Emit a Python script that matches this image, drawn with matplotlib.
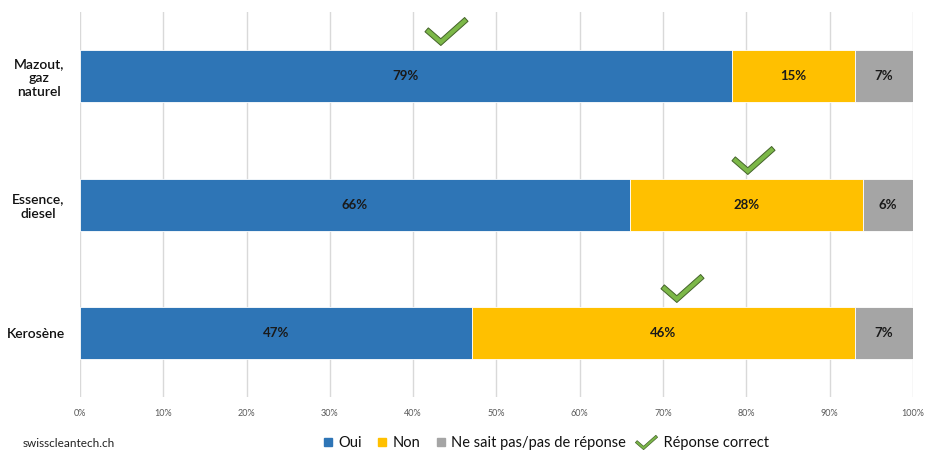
import numpy as np
import matplotlib
matplotlib.use("Agg")
import matplotlib.pyplot as plt
from matplotlib.path import Path
from matplotlib.lines import Line2D

plt.rcParams['font.family'] = ['Lato', 'DejaVu Sans']

# ---- data ----
categories = ["Mazout,\ngaz\nnaturel", "Essence,\ndiesel", "Kerosène"]
oui = [79, 66, 47]
non = [15, 28, 46]
nsp = [7, 6, 7]
series_names = ["Oui", "Non", "Ne sait pas/pas de réponse"]
correct_x = [43.9, 80.8, 72.3]   # position of the "correct answer" check (in %)
xticks = [0, 10, 20, 30, 40, 50, 60, 70, 80, 90, 100]
source = "swisscleantech.ch"
check_label = "Réponse correct"

colors = ["#2E75B6", "#FFC000", "#A5A5A5"]
green = "#7CB848"
green_edge = "#44632A"

# ---- check mark marker shape ----
def check_path():
    P = np.array([[0.0, 13.0], [15.0, 0.0], [42.0, 24.0]])
    h = 2.7
    d0 = P[1] - P[0]; d0 /= np.linalg.norm(d0)
    d1 = P[2] - P[1]; d1 /= np.linalg.norm(d1)
    n0 = np.array([-d0[1], d0[0]]); n1 = np.array([-d1[1], d1[0]])
    m = n0 + n1; m /= np.linalg.norm(m)
    mlen = h / np.dot(m, n0)
    pts = [P[0] + n0 * h, P[1] + m * mlen, P[2] + n1 * h,
           P[2] - n1 * h, P[1] - m * mlen, P[0] - n0 * h, P[0] + n0 * h]
    pts = np.array(pts)
    pts -= (pts.min(axis=0) + pts.max(axis=0)) / 2
    codes = [Path.MOVETO] + [Path.LINETO] * 5 + [Path.CLOSEPOLY]
    return Path(pts, codes)

CHECK = check_path()

fig = plt.figure(figsize=(9.25, 4.55), dpi=100)
ax = fig.add_axes([0.0865, 0.1275, 0.9005, 0.846])

y = np.arange(len(categories))
vals = np.array([oui, non, nsp], dtype=float)
totals = vals.sum(axis=0)
shares = vals / totals * 100

left = np.zeros(len(categories))
for i in range(3):
    ax.barh(y, shares[i], left=left, height=0.405, color=colors[i],
            edgecolor="white", linewidth=0.6, zorder=3)
    for j in range(len(categories)):
        ax.text(left[j] + shares[i][j] / 2, y[j], f"{int(vals[i][j])}%",
                ha="center", va="center", fontsize=9.5, fontweight="bold",
                color="#1a1a1a", zorder=4)
    left += shares[i]

ax.plot(correct_x, y - 0.35, ls="none", marker=CHECK, markersize=31,
        markerfacecolor=green, markeredgecolor=green_edge, markeredgewidth=0.7,
        zorder=5)

ax.set_xlim(0, 100)
ax.set_ylim(2.5, -0.5)
ax.set_xticks(xticks)
ax.set_xticklabels([f"{t}%" for t in xticks], fontsize=6.5, color="#595959")
ax.set_yticks(y)
ax.set_yticklabels(categories, fontsize=10, fontweight="semibold", color="#111111",
                   multialignment="center")
ax.tick_params(axis="both", length=0)
ax.tick_params(axis="x", pad=9)
ax.tick_params(axis="y", pad=11)
ax.grid(axis="x", color="#D9D9D9", linewidth=1, zorder=0)
for s in ax.spines.values():
    s.set_visible(False)

handles = [Line2D([], [], ls="none", marker="s", markersize=6,
                  markerfacecolor=c, markeredgecolor=c) for c in colors]
handles.append(Line2D([], [], ls="none", marker=CHECK, markersize=16,
                      markerfacecolor=green, markeredgecolor=green_edge,
                      markeredgewidth=0.5))
leg = fig.legend(handles, series_names + [check_label], loc="center",
                 bbox_to_anchor=(0.59, 0.026), ncol=4, frameon=False, fontsize=10.5,
                 handlelength=0.8, handletextpad=0.3, columnspacing=1.0)
# give the check-mark handle a bit more room
leg.legend_handles[3].set_markersize(16)
for t in leg.get_texts():
    t.set_color("#111111")
leg.get_texts()[3].set_text("  " + check_label)

fig.text(0.024, 0.026, source, fontsize=8.5, color="#222222", va="center")

fig.savefig("out.png", dpi=100)
